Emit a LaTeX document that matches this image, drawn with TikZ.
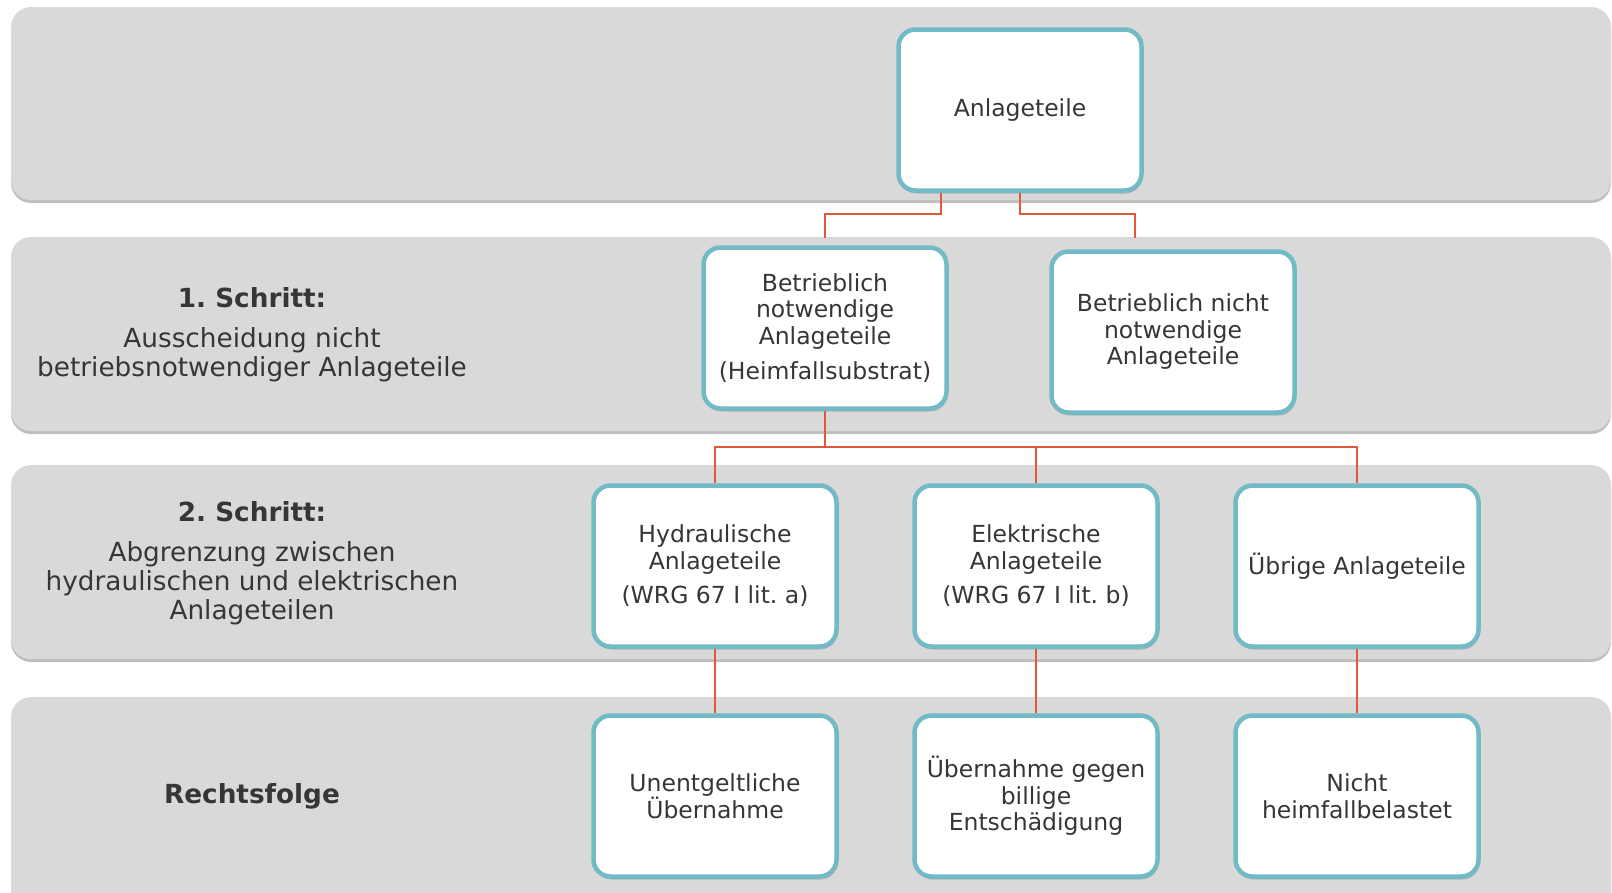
\documentclass[tikz,border=0pt]{standalone}
\usepackage{fontspec}
\setmainfont{DejaVu Sans}
\usetikzlibrary{shadows}
\definecolor{band}{HTML}{D9D9D9}
\definecolor{rim}{HTML}{72BAC6}
\definecolor{link}{HTML}{E0593C}
\definecolor{ink}{HTML}{363636}

\begin{document}
\begin{tikzpicture}[x=1pt,y=-1pt,
		band/.style={fill=band, rounded corners=20pt, drop shadow={shadow xshift=0pt, shadow yshift=-3pt, opacity=0.5}},
		part/.style={draw=rim, line width=4.5pt, fill=white, rounded corners=17pt, minimum width=243pt, minimum height=161pt, align=center, text=ink, font=\fontsize{23.5}{26.5}\selectfont, drop shadow={shadow xshift=1pt, shadow yshift=-3pt, opacity=0.4}},
		steptext/.style={align=center, text=ink, font=\fontsize{26.3}{29}\selectfont},
		link/.style={draw=link, line width=2.5pt}]
		\path[use as bounding box, clip] (0,0) rectangle (1612,892);
		% bands
		\fill[band] (11,7) rectangle (1611,200);
		\fill[band] (11,237) rectangle (1611,431);
		\fill[band] (11,465) rectangle (1611,659);
		\fill[band] (11,697) rectangle (1611,915);
		% step labels
		\node[steptext] (s1) at (252,335) {{\bfseries 1.\ Schritt:}\\[11pt]Ausscheidung nicht\\betriebsnotwendiger Anlageteile};
		\node[steptext] (s2) at (252,563) {{\bfseries 2.\ Schritt:}\\[11pt]Abgrenzung zwischen\\hydraulischen und elektrischen\\Anlageteilen};
		\node[steptext] (rf) at (252,796) {\bfseries Rechtsfolge};
		% boxes
		\node[part] (top) at (1020,110) {Anlageteile};
		\node[part] (notw) at (825,328) {Betrieblich\\notwendige\\Anlageteile\\[9pt](Heimfallsubstrat)};
		\node[part] (nicht) at (1173,332) {Betrieblich nicht\\notwendige\\Anlageteile};
		\node[part] (hydr) at (715,566) {Hydraulische\\Anlageteile\\[8pt](WRG 67 I lit.~a)};
		\node[part] (elek) at (1036,566) {Elektrische\\Anlageteile\\[8pt](WRG 67 I lit.~b)};
		\node[part] (uebr) at (1357,566) {Übrige Anlageteile};
		\node[part] (unent) at (715,796) {Unentgeltliche\\Übernahme};
		\node[part] (billig) at (1036,796) {Übernahme gegen\\billige\\Entschädigung};
		\node[part] (nhf) at (1357,796) {Nicht\\heimfallbelastet};
		% connectors
		\coordinate (a) at (825,238);
		\coordinate (b) at (1135,238);
		\draw[link] ([xshift=-79pt]top.south) -- ++(0,21) -| (a);
		\draw[link] (top.south) -- ++(0,21) -| (b);
		\draw[link] (notw.south) -- ++(0,36) coordinate (fork);
		\draw[link] (hydr.north) |- (fork) -| (uebr.north);
		\draw[link] (elek.north) -- (elek.north |- fork);
		\draw[link] (hydr.south) -- (unent.north);
		\draw[link] (elek.south) -- (billig.north);
		\draw[link] (uebr.south) -- (nhf.north);
\end{tikzpicture}
\end{document}
